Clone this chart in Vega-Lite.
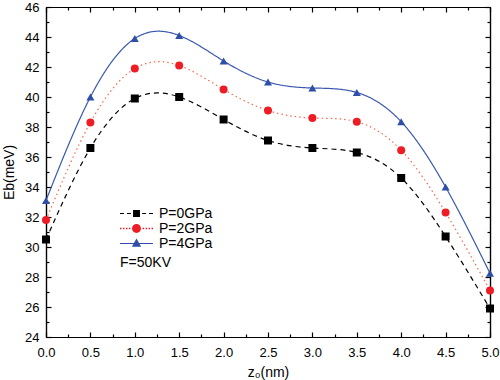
{
  "$schema": "https://vega.github.io/schema/vega-lite/v6.json",
  "width": 444,
  "height": 330,
  "autosize": {"type": "none"},
  "padding": {"left": 46, "top": 7, "right": 10, "bottom": 43},
  "config": {
    "view": {"stroke": null},
    "axis": {"labelFont": "Liberation Sans", "titleFont": "Liberation Sans", "labelFontSize": 13, "titleFontSize": 14, "labelColor": "#000", "titleColor": "#000", "domainColor": "#000", "tickColor": "#000", "grid": false, "titleFontWeight": "normal", "domainWidth": 1.2, "tickWidth": 1.2, "labelFlush": false}
  },
  "datasets": {
    "main": [
      {"z": 0, "E": 30.5, "P": "P=0GPa"}, {"z": 0.5, "E": 36.6, "P": "P=0GPa"}, {"z": 1, "E": 39.9, "P": "P=0GPa"}, {"z": 1.5, "E": 40.0, "P": "P=0GPa"}, {"z": 2, "E": 38.5, "P": "P=0GPa"}, {"z": 2.5, "E": 37.1, "P": "P=0GPa"}, {"z": 3, "E": 36.6, "P": "P=0GPa"}, {"z": 3.5, "E": 36.3, "P": "P=0GPa"}, {"z": 4, "E": 34.6, "P": "P=0GPa"}, {"z": 4.5, "E": 30.7, "P": "P=0GPa"}, {"z": 5, "E": 25.9, "P": "P=0GPa"},
      {"z": 0, "E": 31.8, "P": "P=2GPa"}, {"z": 0.5, "E": 38.3, "P": "P=2GPa"}, {"z": 1, "E": 41.9, "P": "P=2GPa"}, {"z": 1.5, "E": 42.1, "P": "P=2GPa"}, {"z": 2, "E": 40.5, "P": "P=2GPa"}, {"z": 2.5, "E": 39.1, "P": "P=2GPa"}, {"z": 3, "E": 38.6, "P": "P=2GPa"}, {"z": 3.5, "E": 38.35, "P": "P=2GPa"}, {"z": 4, "E": 36.45, "P": "P=2GPa"}, {"z": 4.5, "E": 32.3, "P": "P=2GPa"}, {"z": 5, "E": 27.1, "P": "P=2GPa"},
      {"z": 0, "E": 33.1, "P": "P=4GPa"}, {"z": 0.5, "E": 40.0, "P": "P=4GPa"}, {"z": 1, "E": 43.9, "P": "P=4GPa"}, {"z": 1.5, "E": 44.1, "P": "P=4GPa"}, {"z": 2, "E": 42.4, "P": "P=4GPa"}, {"z": 2.5, "E": 41.0, "P": "P=4GPa"}, {"z": 3, "E": 40.6, "P": "P=4GPa"}, {"z": 3.5, "E": 40.3, "P": "P=4GPa"}, {"z": 4, "E": 38.35, "P": "P=4GPa"}, {"z": 4.5, "E": 34.0, "P": "P=4GPa"}, {"z": 5, "E": 28.25, "P": "P=4GPa"}
    ]
  },
  "layer": [
    {
      "data": {"name": "main"},
      "mark": {"type": "line", "interpolate": "natural", "strokeWidth": 1.2},
      "encoding": {
        "x": {"field": "z", "type": "quantitative", "scale": {"domain": [0, 5], "nice": false, "zero": false},
          "axis": {"orient": "bottom", "values": [0, 0.5, 1, 1.5, 2, 2.5, 3, 3.5, 4, 4.5, 5], "format": ".1f", "tickSize": -5, "labelPadding": 14, "title": "z₀(nm)", "titlePadding": 6}},
        "y": {"field": "E", "type": "quantitative", "scale": {"domain": [24, 46], "nice": false, "zero": false},
          "axis": {"orient": "left", "values": [24, 26, 28, 30, 32, 34, 36, 38, 40, 42, 44, 46], "tickSize": -5, "labelPadding": 12, "title": "Eb(meV)", "titlePadding": 8}},
        "color": {"field": "P", "type": "nominal", "scale": {"domain": ["P=0GPa", "P=2GPa", "P=4GPa"], "range": ["#000000", "#f26b50", "#3a58b0"]}, "legend": null},
        "strokeDash": {"field": "P", "type": "nominal", "scale": {"domain": ["P=0GPa", "P=2GPa", "P=4GPa"], "range": [[5, 4], [1.5, 3], [1, 0]]}, "legend": null}
      }
    },
    {
      "data": {"name": "main"},
      "mark": {"type": "point", "filled": true, "opacity": 1, "strokeWidth": 0},
      "encoding": {
        "x": {"field": "z", "type": "quantitative",
          "axis": {"orient": "top", "values": [0, 0.5, 1, 1.5, 2, 2.5, 3, 3.5, 4, 4.5, 5], "tickSize": -5, "labels": false, "title": null}},
        "y": {"field": "E", "type": "quantitative",
          "axis": {"orient": "right", "values": [24, 26, 28, 30, 32, 34, 36, 38, 40, 42, 44, 46], "tickSize": -5, "labels": false, "title": null}},
        "fill": {"field": "P", "type": "nominal", "scale": {"domain": ["P=0GPa", "P=2GPa", "P=4GPa"], "range": ["#000000", "#ee1c24", "#2e4ea8"]}, "legend": null},
        "shape": {"field": "P", "type": "nominal", "scale": {"domain": ["P=0GPa", "P=2GPa", "P=4GPa"], "range": ["square", "circle", "triangle-up"]}, "legend": null},
        "size": {"value": 64}
      }
    },
    {
      "data": {"name": "main"},
      "transform": [{"filter": "datum.z < -1"}],
      "mark": {"type": "point", "filled": true, "opacity": 1, "strokeWidth": 0},
      "encoding": {
        "x": {"field": "z", "type": "quantitative",
          "axis": {"orient": "bottom", "values": [0.25, 0.75, 1.25, 1.75, 2.25, 2.75, 3.25, 3.75, 4.25, 4.75], "tickSize": -3, "labels": false, "title": null}},
        "y": {"field": "E", "type": "quantitative",
          "axis": {"orient": "left", "values": [25, 27, 29, 31, 33, 35, 37, 39, 41, 43, 45], "tickSize": -3, "labels": false, "title": null}},
        "fill": {"field": "P", "type": "nominal", "scale": {"domain": ["P=0GPa", "P=2GPa", "P=4GPa"], "range": ["#000000", "#ee1c24", "#2e4ea8"]},
          "legend": {"orient": "none", "legendX": 74, "legendY": 199, "title": "F=50KV", "titleOrient": "bottom", "titleAnchor": "start", "titleFont": "Liberation Sans", "titleFontSize": 14, "titleFontWeight": "normal", "titleColor": "#000", "titlePadding": 5, "labelFont": "Liberation Sans", "labelFontSize": 14, "labelColor": "#000", "labelOffset": 6, "symbolSize": 1089, "clipHeight": 15, "rowPadding": 0, "padding": 0, "symbolStrokeWidth": 0}},
        "shape": {"field": "P", "type": "nominal", "scale": {"domain": ["P=0GPa", "P=2GPa", "P=4GPa"], "range": [
          "M-1,-0.036L-0.76,-0.036L-0.76,0.036L-1,0.036Z M-0.58,-0.036L-0.34,-0.036L-0.34,0.036L-0.58,0.036Z M0.34,-0.036L0.58,-0.036L0.58,0.036L0.34,0.036Z M0.76,-0.036L1,-0.036L1,0.036L0.76,0.036Z M-0.21,-0.21L0.21,-0.21L0.21,0.21L-0.21,0.21Z",
          "M-1,-0.045L-0.91,-0.045L-0.91,0.045L-1,0.045Z M-0.82,-0.045L-0.73,-0.045L-0.73,0.045L-0.82,0.045Z M-0.64,-0.045L-0.55,-0.045L-0.55,0.045L-0.64,0.045Z M-0.46,-0.045L-0.37,-0.045L-0.37,0.045L-0.46,0.045Z M0.37,-0.045L0.46,-0.045L0.46,0.045L0.37,0.045Z M0.55,-0.045L0.64,-0.045L0.64,0.045L0.55,0.045Z M0.73,-0.045L0.82,-0.045L0.82,0.045L0.73,0.045Z M0.91,-0.045L1,-0.045L1,0.045L0.91,0.045Z M-0.27,0A0.27,0.27 0 1,0 0.27,0A0.27,0.27 0 1,0 -0.27,0Z",
          "M-1,-0.036L1,-0.036L1,0.036L-1,0.036Z M0,-0.3L0.28,0.2L-0.28,0.2Z"]},
          "legend": {"orient": "none", "legendX": 74, "legendY": 199, "title": "F=50KV"}}
      }
    },
    {
      "data": {"name": "main"},
      "transform": [{"filter": "datum.z < -1"}],
      "mark": {"type": "point"},
      "encoding": {
        "x": {"field": "z", "type": "quantitative",
          "axis": {"orient": "top", "values": [0.25, 0.75, 1.25, 1.75, 2.25, 2.75, 3.25, 3.75, 4.25, 4.75], "tickSize": -3, "labels": false, "title": null}},
        "y": {"field": "E", "type": "quantitative",
          "axis": {"orient": "right", "values": [25, 27, 29, 31, 33, 35, 37, 39, 41, 43, 45], "tickSize": -3, "labels": false, "title": null}}
      }
    }
  ],
  "resolve": {
    "axis": {"x": "independent", "y": "independent"},
    "scale": {"shape": "independent", "fill": "independent"}
  }
}
